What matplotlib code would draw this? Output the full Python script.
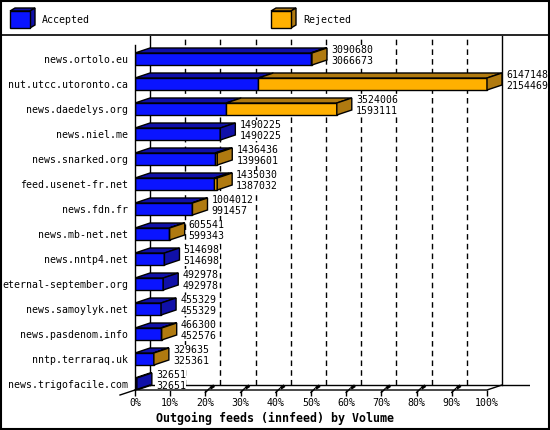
import numpy as np
import matplotlib
matplotlib.use("Agg")
from matplotlib import pyplot as plt
from matplotlib.patches import Polygon, Rectangle

# feeds, offered total (first number) and accepted (second number)
hosts = ["news.ortolo.eu", "nut.utcc.utoronto.ca", "news.daedelys.org", "news.niel.me",
         "news.snarked.org", "feed.usenet-fr.net", "news.fdn.fr", "news.mb-net.net",
         "news.nntp4.net", "eternal-september.org", "news.samoylyk.net",
         "news.pasdenom.info", "nntp.terraraq.uk", "news.trigofacile.com"]
offered = [3090680, 6147148, 3524006, 1490225, 1436436, 1435030, 1004012, 605541,
           514698, 492978, 455329, 466300, 329635, 32651]
accepted = [3066673, 2154469, 1593111, 1490225, 1399601, 1387032, 991457, 599343,
            514698, 492978, 455329, 452576, 325361, 32651]
pct_ticks = [0, 10, 20, 30, 40, 50, 60, 70, 80, 90, 100]

BLUE = "#0a14ff"
BLUE_D = "#1010a8"
ORANGE = "#ffb000"
ORANGE_D = "#b07a10"
FONT = "DejaVu Sans Mono"

W, H = 550, 430
fig = plt.figure(figsize=(5.5, 4.3), dpi=100, facecolor="w")

# plot area in pixels
L, R, B, T = 135, 530, 390, 36
ax = fig.add_axes([L / W, 1 - B / H, (R - L) / W, (B - T) / H])
ax.set_facecolor("none")

vmax = max(offered)
px = vmax / 352.0          # data units per pixel along x
ROW = 25.0                 # pixels per row
DX = 15 * px
DY = 5 / ROW
h = 12 / ROW
y0 = -6 / ROW
ax.set_xlim(0, (R - L) * px)
ax.set_ylim(y0, y0 + (B - T) / ROW)

n = len(hosts)
ypos = np.arange(n)[::-1]
tot = np.array(offered, float)
acc = np.array(accepted, float)
rej = tot - acc

# back wall / floor
floor = y0 + DY
top = y0 + (B - T) / ROW
for k in pct_ticks[1:-1]:
    ax.plot([vmax * k / 100 + DX] * 2, [floor, top], color="k", lw=1,
            ls=(0, (4, 3)), zorder=1)
ax.plot([DX, DX], [floor, top], color="k", lw=1, zorder=1)
ax.plot([vmax + DX] * 2, [floor, top], color="k", lw=1, zorder=1)
ax.plot([DX, (R - L) * px], [floor, floor], color="k", lw=1, zorder=1)
# front axes
ax.plot([0, vmax, vmax + DX], [y0, y0, floor], color="k", lw=1, zorder=6, clip_on=False)
ax.plot([-DX, 0, DX], [y0 - DY, y0, floor], color="k", lw=1, zorder=6, clip_on=False)
ax.plot([0, 0], [y0, y0 + (B - 45) / ROW], color="k", lw=1, zorder=6, clip_on=False)
for k in pct_ticks[2:-1]:
    x = vmax * k / 100
    ax.plot([x, x + 0.25 * DX], [y0 - 0.1, y0 + 0.05], color="k", lw=1, zorder=6,
            clip_on=False)
    ax.plot([x + 0.4 * DX, x + 0.5 * DX], [y0 + 0.1, y0 + 0.14], color="k", lw=2.2,
            zorder=6, clip_on=False)

# bars
ax.barh(ypos, acc, height=h, color=BLUE, edgecolor="k", lw=1, zorder=4)
ax.barh(ypos, rej, left=acc, height=h, color=ORANGE, edgecolor="k", lw=1, zorder=4)
for y, a, t in zip(ypos, acc, tot):
    yt = y + h / 2
    segs = [(0, a, BLUE_D)]
    if t > a:
        segs.append((a, t, ORANGE_D))
    for s0, s1, c in segs:
        ax.add_patch(Polygon([(s0, yt), (s1, yt), (s1 + DX, yt + DY), (s0 + DX, yt + DY)],
                             closed=True, fc=c, ec="k", lw=1, zorder=4))
    side = ORANGE_D if t > a else BLUE_D
    ax.add_patch(Polygon([(t, y - h / 2), (t + DX, y - h / 2 + DY), (t + DX, yt + DY), (t, yt)],
                         closed=True, fc=side, ec="k", lw=1, zorder=4))

# value labels
for y, o, a in zip(ypos, offered, accepted):
    ax.text(o + DX + 4 * px, y + 0.14, "%d\n%d" % (o, a), fontsize=7.1, family=FONT,
            va="center", ha="left", linespacing=1.05, zorder=5, clip_on=False,
            bbox=dict(fc="w", ec="none", pad=0.3))

ax.set_yticks(ypos, hosts, fontsize=7.1, family=FONT)
ax.set_xticks([vmax * k / 100 for k in pct_ticks], ["%d%%" % k for k in pct_ticks],
              fontsize=7.1, family=FONT)
ax.tick_params(axis="y", length=0, pad=5)
ax.tick_params(axis="x", length=4, width=1, pad=2, direction="out")
for s in ax.spines.values():
    s.set_visible(False)

fig.text(274.5 / W, 1 - 418 / H, "Outgoing feeds (innfeed) by Volume", fontsize=8.4,
         family=FONT, weight="bold", ha="center", va="center")

# legend band and frame
lg = fig.add_axes([0, 0, 1, 1])
lg.set_xlim(0, W)
lg.set_ylim(H, 0)
lg.axis("off")
lg.set_zorder(-1)
lg.add_patch(Rectangle((0.5, 0.5), W - 1.5, H - 1.5, fc="none", ec="k", lw=1.5))
lg.plot([0, W], [35, 35], color="k", lw=1.2)
for x0, fc, dc, lab in [(10, BLUE, BLUE_D, "Accepted"), (271, ORANGE, ORANGE_D, "Rejected")]:
    lg.add_patch(Polygon([(x0, 11), (x0 + 20, 11), (x0 + 25, 8), (x0 + 5, 8)], closed=True,
                         fc=dc, ec="k", lw=1))
    lg.add_patch(Polygon([(x0 + 20, 11), (x0 + 25, 8), (x0 + 25, 25), (x0 + 20, 28)],
                         closed=True, fc=dc, ec="k", lw=1))
    lg.add_patch(Rectangle((x0, 11), 20, 17, fc=fc, ec="k", lw=1))
    lg.text(x0 + 32, 20, lab, fontsize=7.1, family=FONT, va="center", ha="left")

fig.savefig("out.png", dpi=100)
